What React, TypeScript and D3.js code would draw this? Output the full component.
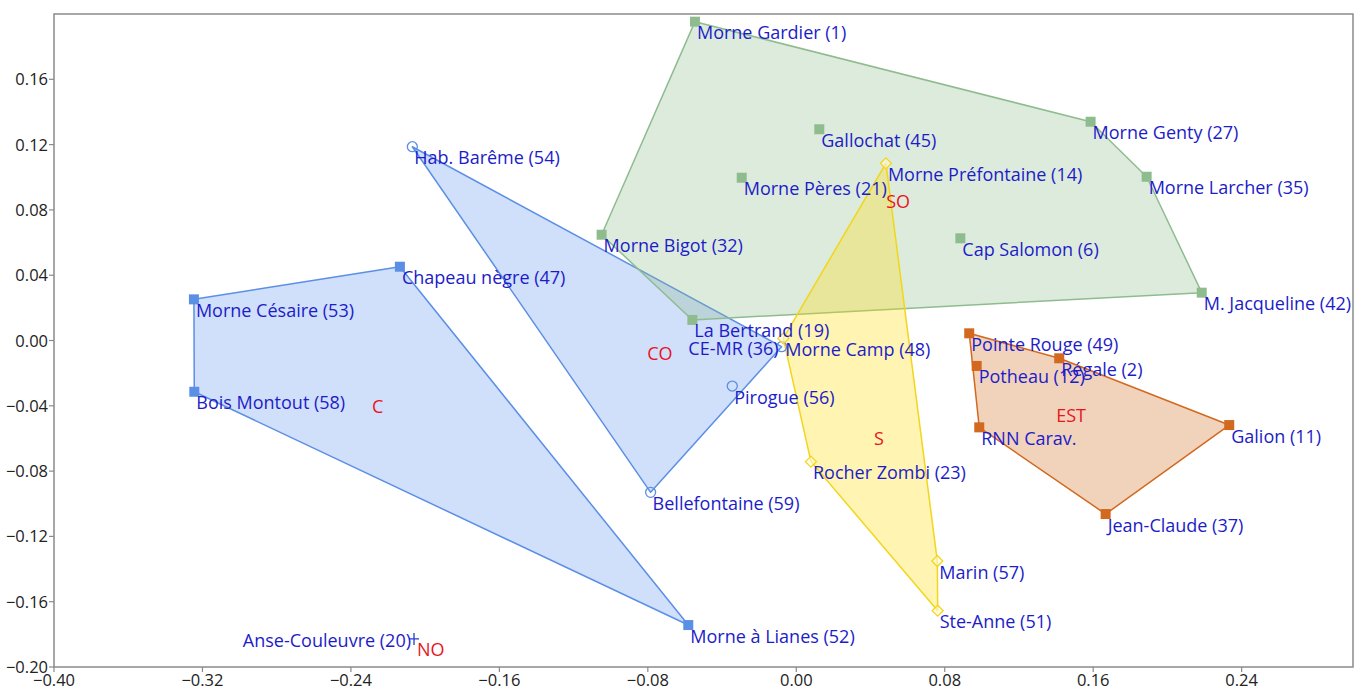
import React from "react";
import * as d3 from "d3";

// ---- Data ----
const groupNames = ["C", "CO", "SO", "S", "EST", "NO"];

const groupC = [
  { name: "Morne Césaire (53)", x: -0.3246, y: 0.0252 },
  { name: "Chapeau nègre (47)", x: -0.2136, y: 0.0452 },
  { name: "Bois Montout (58)", x: -0.3244, y: -0.0314 },
  { name: "Morne à Lianes (52)", x: -0.0582, y: -0.1743 },
];
const groupCO = [
  { name: "Hab. Barême (54)", x: -0.2069, y: 0.1187 },
  { name: "CE-MR (36)", x: -0.0079, y: -0.0038, left: true },
  { name: "Pirogue (56)", x: -0.0345, y: -0.0279 },
  { name: "Bellefontaine (59)", x: -0.0785, y: -0.093 },
];
const groupSO = [
  { name: "Morne Gardier (1)", x: -0.0546, y: 0.1953 },
  { name: "Gallochat (45)", x: 0.0124, y: 0.1294 },
  { name: "Morne Pères (21)", x: -0.0294, y: 0.0997 },
  { name: "Morne Genty (27)", x: 0.1586, y: 0.134 },
  { name: "Morne Larcher (35)", x: 0.1888, y: 0.1003 },
  { name: "Cap Salomon (6)", x: 0.0884, y: 0.0626 },
  { name: "M. Jacqueline (42)", x: 0.2185, y: 0.0293 },
  { name: "Morne Bigot (32)", x: -0.1049, y: 0.0648 },
  { name: "La Bertrand (19)", x: -0.056, y: 0.0126 },
];
const groupS = [
  { name: "Morne Préfontaine (14)", x: 0.0483, y: 0.1085 },
  { name: "Morne Camp (48)", x: -0.007, y: 0.0013 },
  { name: "Rocher Zombi (23)", x: 0.0079, y: -0.0742 },
  { name: "Marin (57)", x: 0.076, y: -0.1351 },
  { name: "Ste-Anne (51)", x: 0.0762, y: -0.1655 },
];
const groupEST = [
  { name: "Pointe Rouge (49)", x: 0.0932, y: 0.0044 },
  { name: "Régale (2)", x: 0.1417, y: -0.0109 },
  { name: "Potheau (12)", x: 0.0972, y: -0.0156 },
  { name: "RNN Carav.", x: 0.0986, y: -0.0532 },
  { name: "Galion (11)", x: 0.2333, y: -0.0518 },
  { name: "Jean-Claude (37)", x: 0.1667, y: -0.1063 },
];
const groupNO = [
  { name: "Anse-Couleuvre (20)", x: -0.206, y: -0.1828, left: true },
];

const xTicks = [-0.4, -0.32, -0.24, -0.16, -0.08, 0.0, 0.08, 0.16, 0.24];
const yTicks = [-0.2, -0.16, -0.12, -0.08, -0.04, 0.0, 0.04, 0.08, 0.12, 0.16];

type Pt = { name: string; x: number; y: number; left?: boolean };

const groups: { id: string; pts: Pt[]; color: string; marker: string }[] = [
  { id: groupNames[0], pts: groupC, color: "#5b8fe6", marker: "square" },
  { id: groupNames[1], pts: groupCO, color: "#5b8fe6", marker: "circle" },
  { id: groupNames[2], pts: groupSO, color: "#8fbc8f", marker: "square" },
  { id: groupNames[3], pts: groupS, color: "#f2d61c", marker: "diamond" },
  { id: groupNames[4], pts: groupEST, color: "#d2691e", marker: "square" },
  { id: groupNames[5], pts: groupNO, color: "#5b8fe6", marker: "plus" },
];
const fillColors: Record<string, string> = {
  C: "rgba(100,149,237,0.3)",
  CO: "rgba(100,149,237,0.3)",
  SO: "rgba(143,188,143,0.3)",
  S: "rgba(255,220,0,0.3)",
  EST: "rgba(210,105,30,0.3)",
  NO: "rgba(100,149,237,0.3)",
};

const W = 1354;
const H = 693;
const left = 54;
const right = 1353;
const top = 14;
const bottom = 667;
const FONT = "'Open Sans', 'Noto Sans', sans-serif";
const LABEL = "#1c1cc8";
const RED = "#e8141e";
const LFS = 18;

export default function App() {
  const x = d3.scaleLinear().domain([-0.4, 0.3]).range([left, right]);
  const y = d3.scaleLinear().domain([-0.2, 0.2]).range([bottom, top]);
  const fmt = d3.format(".2f");

  const marker = (g: string, color: string, px: number, py: number, key: string) => {
    if (g === "square")
      return <rect key={key} x={px - 5} y={py - 5} width={10} height={10} fill={color} />;
    if (g === "circle")
      return <circle key={key} cx={px} cy={py} r={5} fill="none" stroke={color} strokeWidth={1.3} />;
    if (g === "diamond")
      return (
        <path
          key={key}
          d={`M${px},${py - 5.5}L${px + 5.5},${py}L${px},${py + 5.5}L${px - 5.5},${py}Z`}
          fill="rgba(255,250,220,0.6)"
          stroke={color}
          strokeWidth={1.3}
        />
      );
    return (
      <path key={key} d={`M${px - 5},${py}H${px + 5}M${px},${py - 6}V${py + 6}`} stroke="#2a3ad0" strokeWidth={1.3} />
    );
  };

  return (
    <svg width={W} height={H} style={{ position: "absolute", left: 0, top: 0, background: "#fff" }} fontFamily={FONT}>
      {/* hulls */}
      {groups.map((g) => {
        if (g.pts.length < 3) return null;
        const hull = d3.polygonHull(g.pts.map((p) => [x(p.x), y(p.y)] as [number, number]));
        if (!hull) return null;
        return (
          <path
            key={"h" + g.id}
            d={"M" + hull.map((p) => p.join(",")).join("L") + "Z"}
            fill={fillColors[g.id]}
            stroke={g.color}
            strokeWidth={1.5}
            strokeLinejoin="round"
          />
        );
      })}
      {/* frame */}
      <rect x={left} y={top} width={right - left} height={bottom - top} fill="none" stroke="#8a8a8a" strokeWidth={1.5} />
      {/* y axis */}
      {yTicks.map((t) => (
        <g key={"y" + t}>
          <line x1={left - 5} x2={left} y1={y(t)} y2={y(t)} stroke="#8a8a8a" strokeWidth={1.2} />
          <text x={left - 6} y={y(t) + 6} textAnchor="end" fontSize={16.5} fill="#222">
            {fmt(t)}
          </text>
        </g>
      ))}
      {xTicks.map((t) => (
        <g key={"x" + t}>
          <line x1={x(t)} x2={x(t)} y1={bottom} y2={bottom + 5} stroke="#8a8a8a" strokeWidth={1.2} />
          <text x={x(t)} y={bottom + 19} textAnchor="middle" fontSize={16.5} fill="#222">
            {fmt(t)}
          </text>
        </g>
      ))}
      {/* markers */}
      {groups.map((g) => g.pts.map((p, i) => marker(g.marker, g.color, x(p.x), y(p.y), g.id + i)))}
      {/* point labels */}
      {groups.map((g) =>
        g.pts.map((p, i) =>
          p.left ? (
            <text key={"l" + g.id + i} x={x(p.x) - 3} y={y(p.y) + 8} textAnchor="end" fontSize={LFS} fill={LABEL}>
              {p.name}
            </text>
          ) : (
            <text key={"l" + g.id + i} x={x(p.x) + 2} y={y(p.y) + 17.5} fontSize={LFS} fill={LABEL}>
              {p.name}
            </text>
          )
        )
      )}
      {/* group centroid labels */}
      {groups.map((g) => {
        const cx = d3.mean(g.pts, (p) => x(p.x)) as number;
        const cy = d3.mean(g.pts, (p) => y(p.y)) as number;
        return (
          <text key={"c" + g.id} x={cx + 3} y={cy + 17.5} fontSize={LFS} fill={RED}>
            {g.id}
          </text>
        );
      })}
    </svg>
  );
}
